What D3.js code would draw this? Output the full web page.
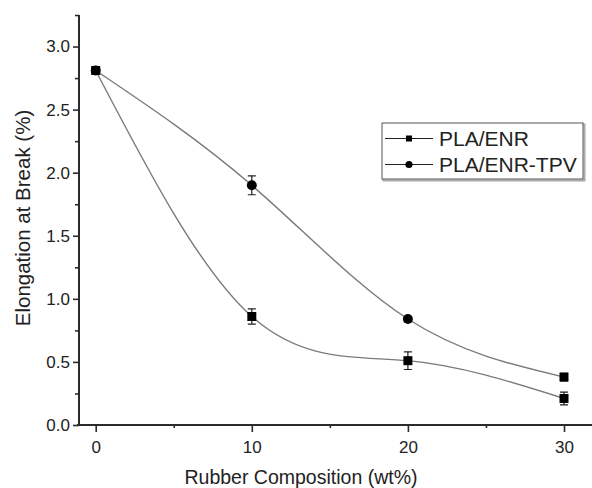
<!DOCTYPE html>
<html lang="en">
<head>
<meta charset="UTF-8">
<title>Elongation at Break</title>
<script src="https://d3js.org/d3.v7.min.js"></script>
<style>
    body { margin: 0; background: #fff; }
    svg { display: block; font-family: "Liberation Sans", Arial, sans-serif; }
</style>
</head>
<body>
<div id="chart"></div>
<script>
    // data
    const composition = [0, 10, 20, 30];
    const enr = [2.81, 0.86, 0.51, 0.21];
    const enrErr = [0.02, 0.06, 0.07, 0.05];
    const tpv = [2.81, 1.90, 0.84, 0.38];
    const tpvErr = [0.02, 0.075, 0.02, 0.03];
    const tpvShapes = ["circle", "circle", "circle", "square"];
    const xTicks = [0, 10, 20, 30];
    const xMinor = [5, 15, 25];
    const yTicks = [0, 0.5, 1.0, 1.5, 2.0, 2.5, 3.0];
    const yMinor = [0.25, 0.75, 1.25, 1.75, 2.25, 2.75, 3.25];

    const width = 592, height = 488;
    const x = d3.scaleLinear().domain([0, 30]).range([95.7, 564]);
    const y = d3.scaleLinear().domain([0, 3.25]).range([425, 15]);

    const svg = d3.select("#chart").append("svg")
        .attr("width", width).attr("height", height);

    const axisColor = "#2b2b2b";
    const textColor = "#222";

    // axes
    const xAxis = svg.append("g").attr("transform", `translate(0,${y(0)})`)
        .call(d3.axisBottom(x).tickValues(xTicks).tickSize(7).tickPadding(9).tickFormat(d3.format("d")));
    svg.append("g").attr("transform", `translate(0,${y(0)})`)
        .call(d3.axisBottom(x).tickValues(xMinor).tickSize(3).tickFormat(""))
        .select(".domain").remove();
    xAxis.select(".domain").attr("d", `M${x(-1.2)},0H${width + 5}`);

    const yAxis = svg.append("g").attr("transform", `translate(${x(-1.07)},0)`)
        .call(d3.axisLeft(y).tickValues(yTicks).tickSize(6).tickPadding(3).tickFormat(d3.format(".1f")));
    svg.append("g").attr("transform", `translate(${x(-1.07)},0)`)
        .call(d3.axisLeft(y).tickValues(yMinor).tickSize(4).tickFormat(""))
        .select(".domain").remove();
    yAxis.select(".domain").attr("d", `M0,${y(3.25)}V${y(0) + 1}`);

    svg.selectAll(".domain").attr("stroke", axisColor).attr("stroke-width", 2);
    svg.selectAll(".tick line").attr("stroke", axisColor).attr("stroke-width", 1.6);
    svg.selectAll(".tick text").attr("fill", textColor).attr("font-size", 17)
        .attr("font-family", "Liberation Sans, Arial, sans-serif");

    // axis titles
    svg.append("text")
        .attr("x", 301).attr("y", 484)
        .attr("text-anchor", "middle").attr("font-size", 19.5).attr("fill", textColor)
        .text("Rubber Composition (wt%)");
    svg.append("text")
        .attr("transform", "translate(30,218) rotate(-90)")
        .attr("text-anchor", "middle").attr("font-size", 20.5).attr("fill", textColor)
        .text("Elongation at Break (%)");

    // curves
    const line = d3.line().x(d => x(d[0])).y(d => y(d[1])).curve(d3.curveNatural);
    const series = [
        { name: "PLA/ENR", values: enr, err: enrErr, shapes: composition.map(() => "square") },
        { name: "PLA/ENR-TPV", values: tpv, err: tpvErr, shapes: tpvShapes }
    ];

    series.forEach(s => {
        const pts = composition.map((c, i) => [c, s.values[i]]);
        svg.append("path").datum(pts)
            .attr("d", line).attr("fill", "none")
            .attr("stroke", "#7a7a7a").attr("stroke-width", 1.4);
    });

    series.forEach(s => {
        const g = svg.append("g");
        composition.forEach((c, i) => {
            const cx = x(c), v = s.values[i], e = s.err[i];
            g.append("path")
                .attr("d", `M${cx},${y(v + e)}V${y(v - e)}M${cx - 4},${y(v + e)}H${cx + 4}M${cx - 4},${y(v - e)}H${cx + 4}`)
                .attr("stroke", "#222").attr("stroke-width", 1.2).attr("fill", "none");
            const sym = s.shapes[i] === "square" ? d3.symbolSquare : d3.symbolCircle;
            const size = s.shapes[i] === "square" ? 81 : 78;
            g.append("path")
                .attr("d", d3.symbol(sym, size)())
                .attr("transform", `translate(${cx},${y(v)})`)
                .attr("fill", "#000");
        });
    });

    // legend
    const lg = svg.append("g");
    const lx = 382, ly = 123, lw = 201, lh = 56;
    lg.append("rect").attr("x", lx + 1.5).attr("y", ly + 1.5).attr("width", lw).attr("height", lh)
        .attr("fill", "none").attr("stroke", "#aaa").attr("stroke-width", 2);
    lg.append("rect").attr("x", lx).attr("y", ly).attr("width", lw).attr("height", lh)
        .attr("fill", "#fff").attr("stroke", "#555").attr("stroke-width", 1);
    series.forEach((s, i) => {
        const yy = ly + 15.5 + i * 26;
        lg.append("line").attr("x1", lx + 3).attr("x2", lx + 51).attr("y1", yy).attr("y2", yy)
            .attr("stroke", "#222").attr("stroke-width", 1.2);
        lg.append("path")
            .attr("d", d3.symbol(i === 0 ? d3.symbolSquare : d3.symbolCircle, i === 0 ? 36 : 40)())
            .attr("transform", `translate(${lx + 27},${yy})`).attr("fill", "#000");
        lg.append("text").attr("x", lx + 57).attr("y", yy + 7)
            .attr("font-size", 21).attr("fill", textColor).text(s.name);
    });
</script>
</body>
</html>
